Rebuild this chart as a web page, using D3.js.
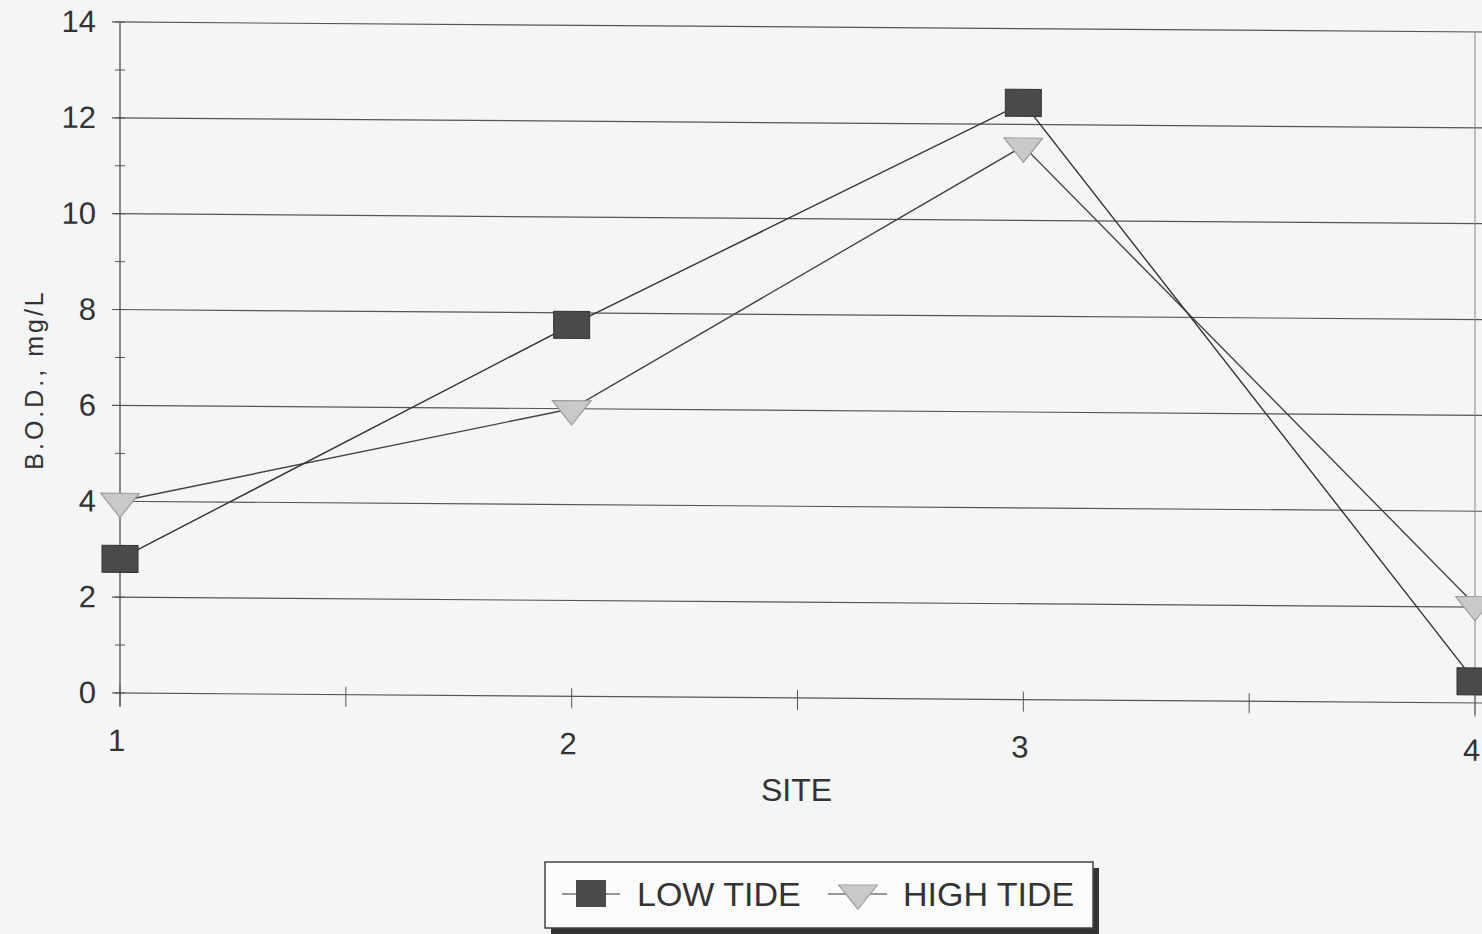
<!DOCTYPE html>
<html>
<head>
<meta charset="utf-8">
<script src="https://cdn.jsdelivr.net/npm/d3@7"></script>
<style>
  body { margin: 0; background: #f4f5f7; }
  text { font-family: "Liberation Sans", Arial, sans-serif; fill: #333; }
</style>
</head>
<body>
<script>
// data
var sites = [1, 2, 3, 4];
var lowTide = [2.8, 7.75, 12.45, 0.45];
var highTide = [4.0, 6.0, 11.55, 2.05];
var yTicks = [0, 2, 4, 6, 8, 10, 12, 14];
var seriesNames = ["LOW TIDE", "HIGH TIDE"];

var W = 1482, H = 934;
var margin = { top: 22, right: 7, bottom: 241, left: 120 },
    width = W - margin.left - margin.right,
    height = H - margin.top - margin.bottom;

var svg = d3.select("body").append("svg")
    .attr("width", W)
    .attr("height", H);

// the scan is slightly sheared, so lean the plot a touch
var g = svg.append("g")
    .attr("transform", "translate(" + margin.left + "," + margin.top + ") skewY(0.42)");

var x = d3.scaleLinear().domain([1, 4]).range([0, width]);
var y = d3.scaleLinear().domain([0, 14]).range([height, 0]);

// gridlines
g.selectAll(".grid")
    .data(yTicks)
    .enter().append("line")
    .attr("class", "grid")
    .attr("x1", -8)
    .attr("x2", width + 12)
    .attr("y1", function (d) { return y(d); })
    .attr("y2", function (d) { return y(d); })
    .attr("stroke", "#555")
    .attr("stroke-width", 1.2);

// right border
g.append("line")
    .attr("x1", width).attr("x2", width)
    .attr("y1", 0).attr("y2", height + 14)
    .attr("stroke", "#888");

// y axis with crossing minor ticks
var yAxis = g.append("g")
    .call(d3.axisLeft(y).tickValues(yTicks).tickSize(0).tickPadding(24).tickFormat(d3.format("d")));
yAxis.select(".domain").remove();
yAxis.selectAll("text").style("font-size", "31px").attr("fill", "#333");
g.append("line")
    .attr("x1", 0).attr("x2", 0)
    .attr("y1", 0).attr("y2", height + 14)
    .attr("stroke", "#444").attr("stroke-width", 1.2);
g.selectAll(".ytick")
    .data(d3.range(0, 15, 1))
    .enter().append("line")
    .attr("class", "ytick")
    .attr("x1", -5).attr("x2", 5)
    .attr("y1", function (d) { return y(d); })
    .attr("y2", function (d) { return y(d); })
    .attr("stroke", "#555");

// x axis
var xAxis = g.append("g")
    .attr("transform", "translate(0," + height + ")")
    .call(d3.axisBottom(x).tickValues(sites).tickSize(0).tickPadding(36).tickFormat(d3.format("d")));
xAxis.select(".domain").remove();
xAxis.selectAll("text").style("font-size", "31px").attr("fill", "#333")
    .attr("dx", "-4");
g.selectAll(".xtick")
    .data(d3.range(1, 4.01, 0.5))
    .enter().append("line")
    .attr("class", "xtick")
    .attr("x1", function (d) { return x(d); })
    .attr("x2", function (d) { return x(d); })
    .attr("y1", height - 8)
    .attr("y2", height + 12)
    .attr("stroke", "#555");

// axis titles
svg.append("text")
    .attr("transform", "translate(43," + (margin.top + height / 2 + 22) + ") rotate(-90)")
    .attr("text-anchor", "middle")
    .style("font-size", "25px")
    .style("letter-spacing", "3px")
    .text("B.O.D., mg/L");

svg.append("text")
    .attr("x", margin.left + width / 2 - 1)
    .attr("y", 801)
    .attr("text-anchor", "middle")
    .style("font-size", "32px")
    .text("SITE");

// lines
var line = d3.line()
    .x(function (d, i) { return x(sites[i]); })
    .y(function (d) { return y(d); });

g.append("path").datum(highTide)
    .attr("d", line).attr("fill", "none")
    .attr("stroke", "#444").attr("stroke-width", 1.4);
g.append("path").datum(lowTide)
    .attr("d", line).attr("fill", "none")
    .attr("stroke", "#333").attr("stroke-width", 1.4);

// markers
var sqW = 36, sqH = 27;
var tri = d3.symbol().type(d3.symbolTriangle).size(420);

g.selectAll(".hi")
    .data(highTide)
    .enter().append("path")
    .attr("class", "hi")
    .attr("d", tri)
    .attr("transform", function (d, i) { return "translate(" + x(sites[i]) + "," + y(d) + ") rotate(180) scale(1.25,0.9)"; })
    .attr("fill", "#c9c9c9")
    .attr("stroke", "#999");

g.selectAll(".lo")
    .data(lowTide)
    .enter().append("rect")
    .attr("class", "lo")
    .attr("x", function (d, i) { return x(sites[i]) - sqW / 2; })
    .attr("y", function (d) { return y(d) - sqH / 2; })
    .attr("width", sqW)
    .attr("height", sqH)
    .attr("fill", "#4a4a4a")
    .attr("stroke", "#333");

// legend
var lg = svg.append("g").attr("transform", "translate(545,862)");
lg.append("rect").attr("x", 6).attr("y", 6).attr("width", 548).attr("height", 66).attr("fill", "#333");
lg.append("rect").attr("width", 548).attr("height", 66).attr("fill", "#fbfbfc").attr("stroke", "#444").attr("stroke-width", 1.5);

lg.append("line").attr("x1", 17).attr("x2", 75).attr("y1", 32).attr("y2", 32).attr("stroke", "#333");
lg.append("rect").attr("x", 31).attr("y", 18).attr("width", 30).attr("height", 27).attr("fill", "#4a4a4a");
lg.append("text").attr("x", 92).attr("y", 44).style("font-size", "34px").text(seriesNames[0]);

lg.append("line").attr("x1", 283).attr("x2", 342).attr("y1", 32).attr("y2", 32).attr("stroke", "#333");
lg.append("path").attr("d", tri)
    .attr("transform", "translate(313,31) rotate(180) scale(1.25,0.9)")
    .attr("fill", "#c9c9c9").attr("stroke", "#999");
lg.append("text").attr("x", 358).attr("y", 44).style("font-size", "34px").text(seriesNames[1]);
</script>
</body>
</html>
